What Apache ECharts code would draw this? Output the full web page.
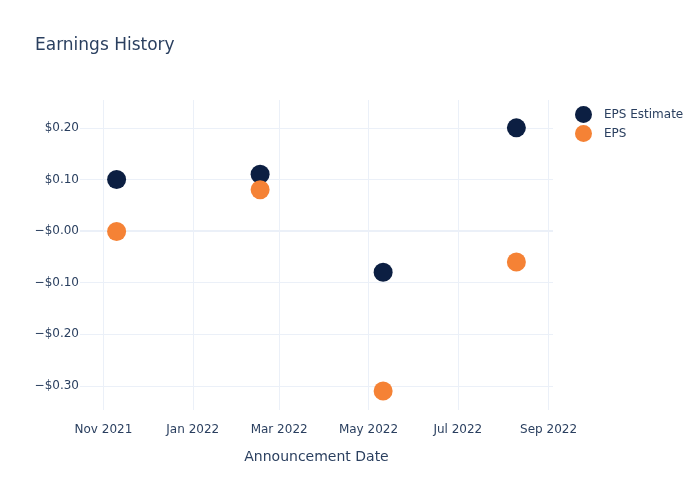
<!DOCTYPE html>
<html><head><meta charset="utf-8">
<script src="https://cdn.jsdelivr.net/npm/echarts@6/dist/echarts.min.js"></script>
<style>html,body{margin:0;padding:0;background:#fff}#c{width:700px;height:500px}</style>
</head><body><div id="c"></div>
<script>
const dates = ['2021-11-10', '2022-02-16', '2022-05-11', '2022-08-10'];
const epsEstimate = [0.10, 0.11, -0.08, 0.20];
const eps = [-0.001, 0.08, -0.31, -0.06];
const xTickDates = ['2021-11-01', '2022-01-01', '2022-03-01', '2022-05-01', '2022-07-01', '2022-09-01'];
const xTickLabels = ['Nov 2021', 'Jan 2022', 'Mar 2022', 'May 2022', 'Jul 2022', 'Sep 2022'];
const yTickValues = [-0.3, -0.2, -0.1, 0, 0.1, 0.2];
const yTickLabels = ['\u2212$0.30', '\u2212$0.20', '\u2212$0.10', '\u2212$0.00', '$0.10', '$0.20'];

const FONT = 'DejaVu Sans';
const TXT = '#2a3f5f';
const GRID = '#EBF0F8';
const ts = d => new Date(d + 'T00:00:00Z').getTime();
const xTickTs = xTickDates.map(ts);
const chart = echarts.init(document.getElementById('c'), null, {renderer: 'canvas'});
chart.setOption({
  animation: false,
  backgroundColor: '#fff',
  textStyle: {fontFamily: FONT},
  title: {text: 'Earnings History', left: 30, top: 32,
    textStyle: {fontFamily: FONT, fontSize: 17, fontWeight: 'normal', color: TXT}},
  legend: {orient: 'vertical', left: 570, top: 101, itemGap: 2, icon: 'circle',
    itemWidth: 17, itemHeight: 17,
    textStyle: {fontFamily: FONT, fontSize: 12, color: TXT, padding: [0, 0, 0, 7]},
    data: ['EPS Estimate', 'EPS']},
  grid: {left: 80, right: 147, top: 100, bottom: 90, containLabel: false},
  xAxis: {
    type: 'value',
    min: ts('2021-10-16'),
    max: ts('2022-09-04'),
    name: 'Announcement Date', nameLocation: 'middle', nameGap: 40,
    nameTextStyle: {fontFamily: FONT, fontSize: 14, color: TXT},
    axisLine: {show: false}, axisTick: {show: false, customValues: xTickTs},
    splitLine: {show: true, lineStyle: {color: GRID, width: 1}},
    axisLabel: {customValues: xTickTs, color: TXT, fontFamily: FONT, fontSize: 12, margin: 14,
      formatter: (v) => { const i = xTickTs.indexOf(v); return i >= 0 ? xTickLabels[i] : ''; }}
  },
  yAxis: {
    type: 'value', min: -0.347, max: 0.254,
    axisLine: {show: false}, axisTick: {show: false, customValues: yTickValues},
    splitLine: {show: true, lineStyle: {color: GRID, width: 1}},
    axisLabel: {customValues: yTickValues, color: TXT, fontFamily: FONT, fontSize: 12, margin: 1,
      formatter: (v) => { const i = yTickValues.findIndex(t => Math.abs(t - v) < 1e-9); return i >= 0 ? yTickLabels[i] : ''; }}
  },
  series: [
    {name: 'EPS Estimate', type: 'scatter', symbolSize: 19, itemStyle: {color: '#0c1f42', opacity: 1},
      data: dates.map((d, i) => [ts(d), epsEstimate[i]]), z: 3,
      markLine: {silent: true, symbol: 'none', label: {show: false},
        lineStyle: {color: GRID, width: 2, type: 'solid'}, data: [{yAxis: 0}], z: 1}},
    {name: 'EPS', type: 'scatter', symbolSize: 19, itemStyle: {color: '#f58235', opacity: 1},
      data: dates.map((d, i) => [ts(d), eps[i]]), z: 4}
  ]
});
</script></body></html>
